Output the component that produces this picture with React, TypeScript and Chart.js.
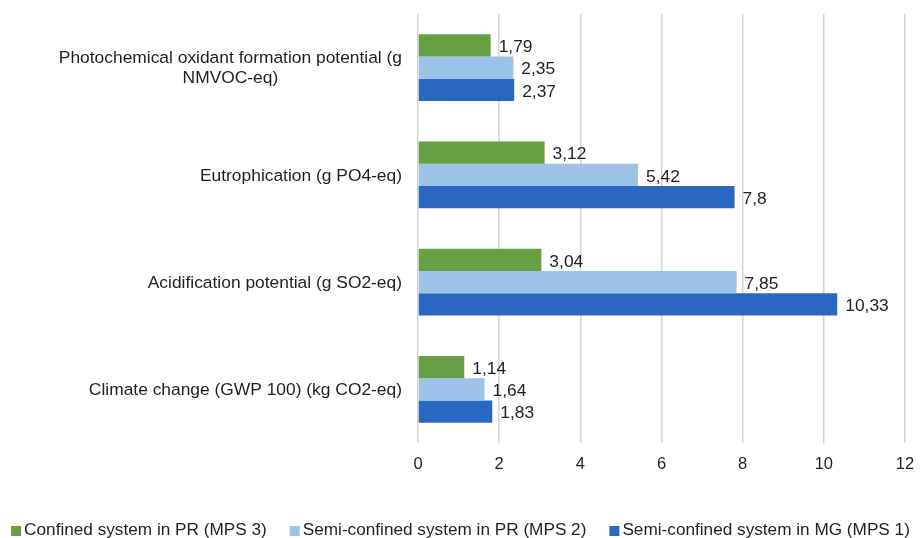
import React, { useEffect, useRef } from "react";
import { Chart, registerables } from "chart.js";

Chart.register(...registerables);

const categories: string[][] = [
  ["Photochemical oxidant formation potential (g", "NMVOC-eq)"],
  ["Eutrophication (g PO4-eq)"],
  ["Acidification potential (g SO2-eq)"],
  ["Climate change (GWP 100) (kg CO2-eq)"],
];
const seriesNames = [
  "Confined system in PR (MPS 3)",
  "Semi-confined system in PR (MPS 2)",
  "Semi-confined system in MG (MPS 1)",
];
const mps3 = [1.79, 3.12, 3.04, 1.14];
const mps2 = [2.35, 5.42, 7.85, 1.64];
const mps1 = [2.37, 7.8, 10.33, 1.83];
const colors = ["#67a044", "#9cc2e7", "#2a67c0"];
const xTicks = [0, 2, 4, 6, 8, 10, 12];

const FONT = "'Liberation Sans', Arial, sans-serif";
const TEXT = "#1f1f1f";

const labelPlugin = {
  id: "customLabels",
  afterDatasetsDraw(chart: any) {
    const ctx = chart.ctx;
    ctx.save();
    // value labels
    ctx.font = `17.4px ${FONT}`;
    ctx.fillStyle = TEXT;
    ctx.textAlign = "left";
    ctx.textBaseline = "middle";
    chart.data.datasets.forEach((ds: any, di: number) => {
      const meta = chart.getDatasetMeta(di);
      meta.data.forEach((bar: any, i: number) => {
        const v = ds.data[i];
        ctx.fillText(String(v).replace(".", ","), bar.x + 8, bar.y + 2);
      });
    });
    // category labels
    const yScale = chart.scales.y;
    const right = chart.chartArea.left - 16;
    const lh = 20;
    ctx.font = `17.4px ${FONT}`;
    ctx.textAlign = "center";
    categories.forEach((lines, i) => {
      const cy = yScale.getPixelForValue(i);
      const maxW = Math.max(...lines.map((l) => ctx.measureText(l).width));
      const cx = right - maxW / 2;
      const top = cy - ((lines.length - 1) * lh) / 2;
      lines.forEach((l, j) => ctx.fillText(l, cx, top + j * lh + 1));
    });
    // legend
    ctx.font = `17.2px ${FONT}`;
    ctx.textAlign = "left";
    const box = 10;
    const gapText = 3;
    const gapItem = 23;
    const widths = seriesNames.map((n) => ctx.measureText(n).width);
    const total =
      widths.reduce((a, w) => a + box + gapText + w, 0) +
      gapItem * (seriesNames.length - 1);
    let x = (chart.width - total) / 2;
    const ly = 530;
    seriesNames.forEach((n, i) => {
      ctx.fillStyle = colors[i];
      ctx.fillRect(x, ly - box / 2 + 1, box, box);
      ctx.fillStyle = TEXT;
      ctx.fillText(n, x + box + gapText, ly);
      x += box + gapText + widths[i] + gapItem;
    });
    ctx.restore();
  },
};

export default function App() {
  const ref = useRef<HTMLCanvasElement>(null);
  useEffect(() => {
    document.body.style.margin = "0";
    const chart = new Chart(ref.current!, {
      type: "bar",
      data: {
        labels: categories.map((c) => c.join(" ")),
        datasets: [
          { label: seriesNames[0], data: mps3, backgroundColor: colors[0] },
          { label: seriesNames[1], data: mps2, backgroundColor: colors[1] },
          { label: seriesNames[2], data: mps1, backgroundColor: colors[2] },
        ],
      },
      options: {
        indexAxis: "y",
        animation: false,
        responsive: false,
        layout: { padding: { top: 14, right: 16, bottom: 51, left: 0 } },
        datasets: { bar: { barPercentage: 1, categoryPercentage: 0.623 } },
        scales: {
          x: {
            min: 0,
            max: 12,
            afterBuildTicks: (s: any) => {
              s.ticks = xTicks.map((v) => ({ value: v }));
            },
            afterFit: (s: any) => {
              s.height = 44;
              s.paddingLeft = 0;
              s.paddingRight = 0;
            },
            grid: { color: "#d4d4d4", lineWidth: 1.5, drawTicks: false },
            border: { display: false },
            ticks: {
              padding: 12,
              color: TEXT,
              font: { family: FONT, size: 16.5 },
            },
          },
          y: {
            ticks: { display: false },
            grid: { display: false },
            border: { display: false },
            afterFit: (s: any) => {
              s.width = 418;
              s.paddingTop = 0;
              s.paddingBottom = 0;
            },
          },
        },
        plugins: {
          tooltip: { enabled: false },
          legend: { display: false },
        },
      },
      plugins: [labelPlugin],
    });
    return () => chart.destroy();
  }, []);
  return (
    <div style={{ width: 921, height: 538 }}>
      <canvas ref={ref} width={921} height={538} style={{ display: "block" }} />
    </div>
  );
}
